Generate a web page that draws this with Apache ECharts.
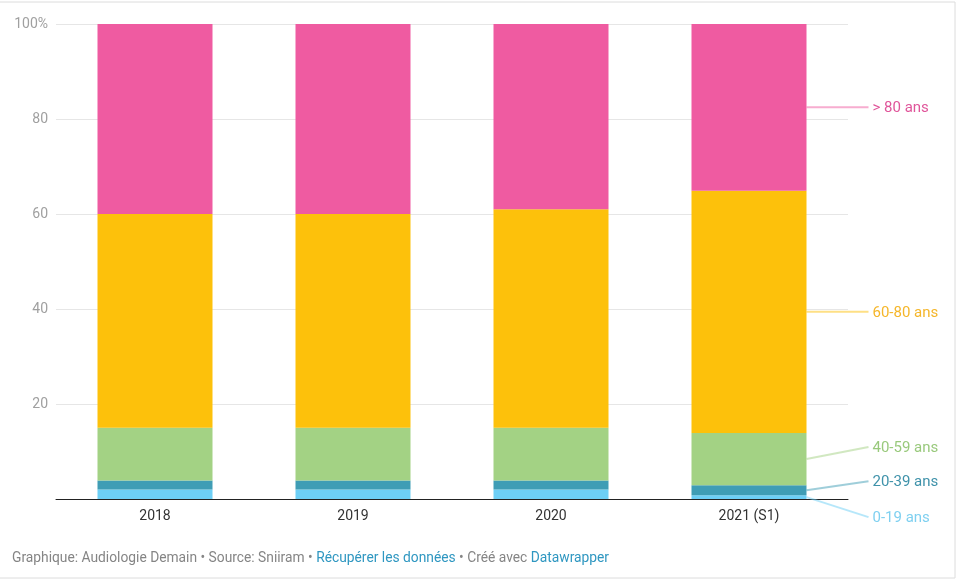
<!DOCTYPE html>
<html><head><meta charset="utf-8">
<script src="https://cdn.jsdelivr.net/npm/echarts@6/dist/echarts.min.js"></script>
<style>html,body{margin:0;padding:0;background:#fff}#c{width:957px;height:582px}</style>
</head><body><div id="c"></div>
<script>
const categories = ['2018', '2019', '2020', '2021 (S1)'];
const seriesNames = ['0-19 ans', '20-39 ans', '40-59 ans', '60-80 ans', '> 80 ans'];
const age0_19 = [2, 2, 2, 0.8];
const age20_39 = [1.9, 1.9, 1.9, 2.1];
const age40_59 = [11.1, 11.1, 11.1, 11];
const age60_80 = [45, 45, 46, 51];
const age80plus = [40, 40, 39, 35.1];
const yTicks = [0, 20, 40, 60, 80, 100];

const values = [age0_19, age20_39, age40_59, age60_80, age80plus];
const colors = ['#6dcff6', '#3f9db5', '#a3d284', '#fdc10b', '#ef5ba1'];
const textColors = ['#7fd0f0', '#3f92aa', '#99c97c', '#f5b62a', '#e0559a'];
const labelShift = [20, -9, -12, 0, 0];

const chart = echarts.init(document.getElementById('c'), null, {renderer: 'canvas'});
const FONT = 'Roboto, "Noto Sans", sans-serif';
const option = {
  animation: false,
  textStyle: {fontFamily: FONT},
  grid: {left: 56, right: 109, top: 24, bottom: 83},
  xAxis: {
    type: 'category', data: categories,
    axisLine: {lineStyle: {color: '#222', width: 1}},
    axisTick: {show: false},
    axisLabel: {color: '#333', fontSize: 14, margin: 10, fontFamily: FONT}
  },
  yAxis: {
    type: 'value', min: 0, max: 100, interval: 20,
    axisLine: {show: false}, axisTick: {show: false},
    splitLine: {lineStyle: {color: '#e6e6e6'}},
    axisLabel: {color: '#a0a0a0', fontSize: 14, margin: 8, fontFamily: FONT,
      formatter: v => v === 100 ? '100%' : (v === 0 ? '' : String(v))}
  },
  series: seriesNames.map((n, i) => ({
    name: n, type: 'bar', stack: 'a', barWidth: 115,
    itemStyle: {color: colors[i]},
    data: values[i]
  })),
  title: {
    left: 7, bottom: 11,
    text: 'Graphique: Audiologie Demain • Source: Sniiram • {a|Récupérer les données} • Créé avec {a|Datawrapper}',
    textStyle: {fontSize: 13.8, fontWeight: 'normal', color: '#858585', fontFamily: FONT,
      rich: {a: {color: '#2f97c1', fontSize: 13.8, fontFamily: FONT}}}
  }
};
chart.setOption(option);

// right-side labels anchored to the last bar's segment midpoints
const last = categories.length - 1;
const g = [];
let cum = 0;
const barRight = chart.convertToPixel({xAxisIndex: 0}, categories[last]) + 115 / 2;
const lineEnd = barRight + 62;
for (let i = 0; i < seriesNames.length; i++) {
  const v = values[i][last];
  const mid = cum + v / 2;
  cum += v;
  const y = chart.convertToPixel({yAxisIndex: 0}, mid);
  const ly = y + labelShift[i];
  g.push({type: 'polyline', shape: {points: [[barRight, y], [lineEnd, ly]]},
    style: {stroke: colors[i], lineWidth: 2, opacity: 0.5}, z: 10});
  g.push({type: 'text', x: lineEnd + 4, y: ly + 1,
    style: {text: seriesNames[i], fill: textColors[i], font: '15px ' + FONT, verticalAlign: 'middle'}, z: 10});
}
g.push({type: 'rect', shape: {x: -2, y: 2, width: 957, height: 576},
  style: {fill: 'none', stroke: '#dcdcdc', lineWidth: 1}, silent: true});
chart.setOption({graphic: g});
</script></body></html>
